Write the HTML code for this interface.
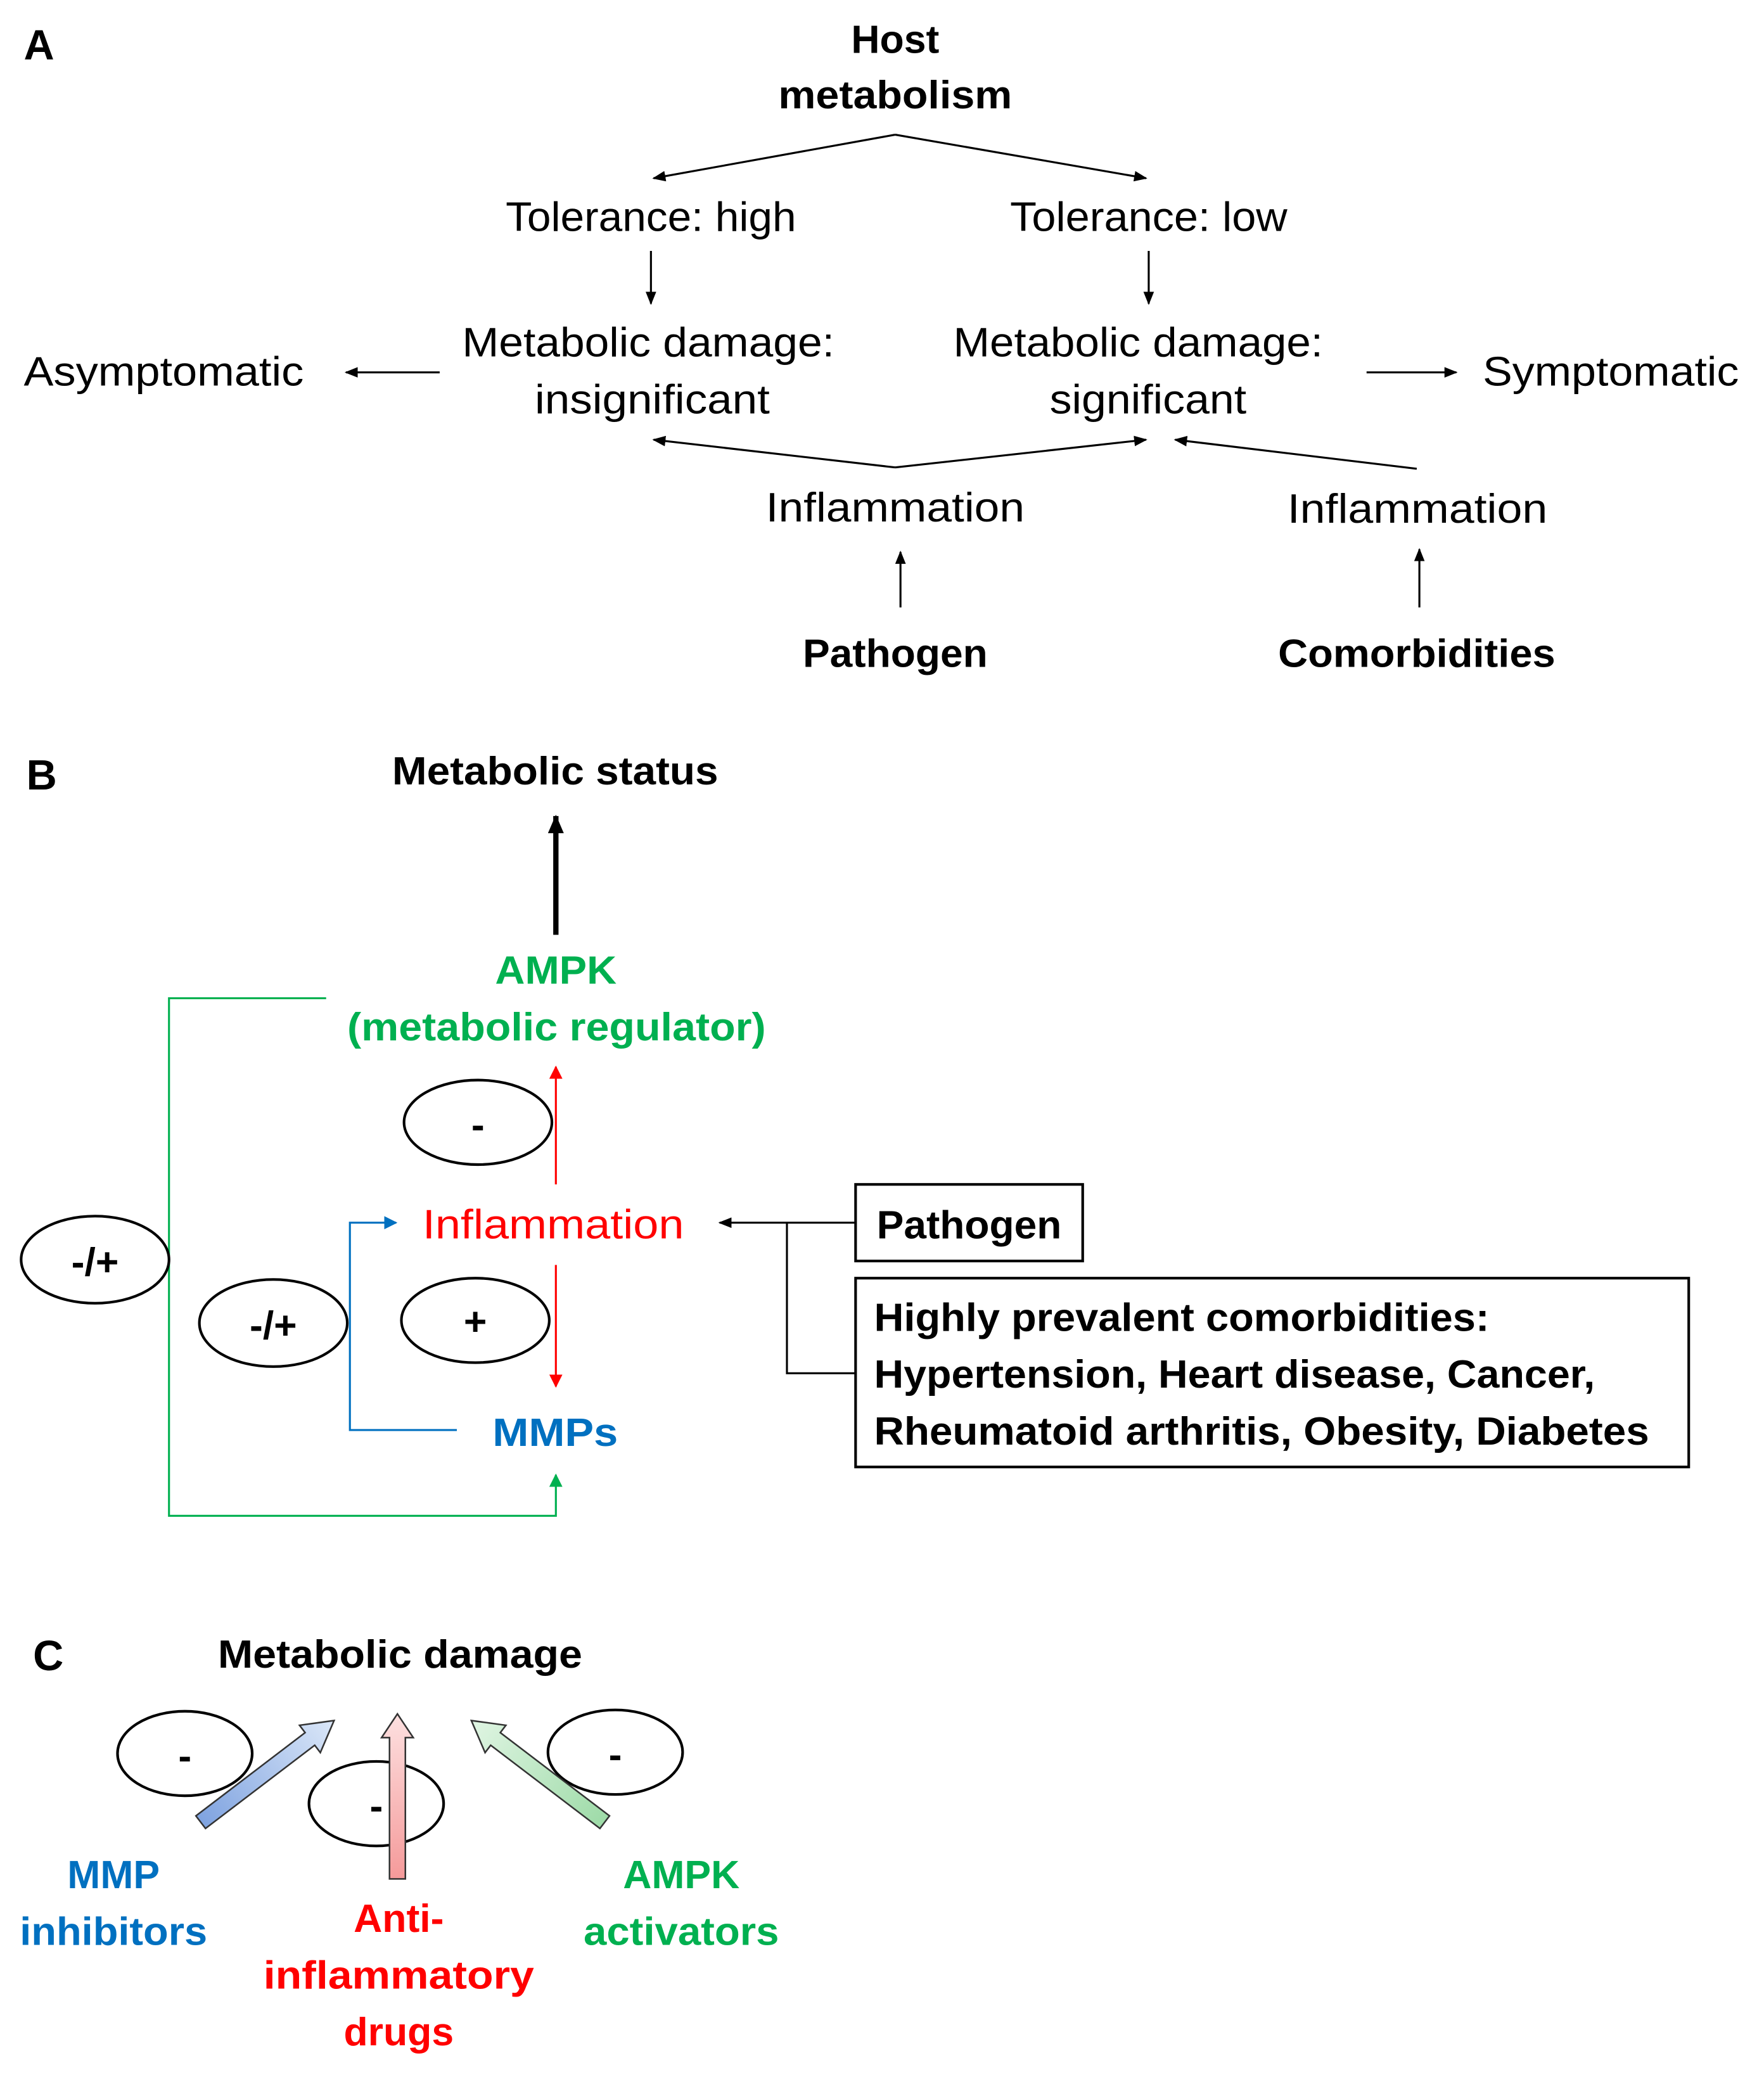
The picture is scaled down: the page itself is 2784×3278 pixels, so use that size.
<!DOCTYPE html>
<html><head><meta charset="utf-8"><style>
html,body{margin:0;padding:0;background:#fff}
svg{display:block}
text{font-family:"Liberation Sans",sans-serif}
.b{font-weight:bold}
</style></head><body>
<svg width="2784" height="3278" viewBox="0 0 1336 1573" preserveAspectRatio="none" xmlns="http://www.w3.org/2000/svg">
<defs>
<marker id="ak" markerWidth="10" markerHeight="8" refX="9" refY="4" orient="auto" markerUnits="userSpaceOnUse"><path d="M0,0 L10,4 L0,8 z" fill="#000"/></marker>
<marker id="akb" markerWidth="14" markerHeight="12" refX="13" refY="6" orient="auto" markerUnits="userSpaceOnUse"><path d="M0,0 L14,6 L0,12 z" fill="#000"/></marker>
<marker id="ar" markerWidth="10" markerHeight="10" refX="9" refY="5" orient="auto" markerUnits="userSpaceOnUse"><path d="M0,0 L10,5 L0,10 z" fill="#f00"/></marker>
<marker id="ag" markerWidth="10" markerHeight="10" refX="9" refY="5" orient="auto" markerUnits="userSpaceOnUse"><path d="M0,0 L10,5 L0,10 z" fill="#00b050"/></marker>
<marker id="abl" markerWidth="10" markerHeight="10" refX="9" refY="5" orient="auto" markerUnits="userSpaceOnUse"><path d="M0,0 L10,5 L0,10 z" fill="#0070c0"/></marker>
<linearGradient id="gb" x1="0" y1="0" x2="1" y2="0"><stop offset="0" stop-color="#7fa3e0"/><stop offset="1" stop-color="#dbe7f8"/></linearGradient>
<linearGradient id="gr" x1="0" y1="0" x2="1" y2="0"><stop offset="0" stop-color="#f59a9a"/><stop offset="1" stop-color="#fde0e0"/></linearGradient>
<linearGradient id="gg" x1="0" y1="0" x2="1" y2="0"><stop offset="0" stop-color="#9edba8"/><stop offset="1" stop-color="#e0f5e3"/></linearGradient>
</defs>

<!-- A -->
<text x="18" y="45" font-size="32" class="b">A</text>
<text x="678" y="40" font-size="30" class="b" text-anchor="middle">Host</text>
<text x="678" y="82" font-size="30" class="b" text-anchor="middle" textLength="177" lengthAdjust="spacingAndGlyphs">metabolism</text>
<g stroke="#000" stroke-width="1.5" fill="none">
<line x1="678" y1="102" x2="495" y2="135" marker-end="url(#ak)"/>
<line x1="678" y1="102" x2="868" y2="135" marker-end="url(#ak)"/>
<line x1="493" y1="190" x2="493" y2="230" marker-end="url(#ak)"/>
<line x1="870" y1="190" x2="870" y2="230" marker-end="url(#ak)"/>
<line x1="333" y1="282" x2="262" y2="282" marker-end="url(#ak)"/>
<line x1="1035" y1="282" x2="1103" y2="282" marker-end="url(#ak)"/>
<line x1="678" y1="354" x2="495" y2="333" marker-end="url(#ak)"/>
<line x1="678" y1="354" x2="868" y2="333" marker-end="url(#ak)"/>
<line x1="1073" y1="355" x2="890" y2="333" marker-end="url(#ak)"/>
<line x1="682" y1="460" x2="682" y2="418" marker-end="url(#ak)"/>
<line x1="1075" y1="460" x2="1075" y2="416" marker-end="url(#ak)"/>
</g>
<g font-size="31">
<text x="383" y="175" textLength="220" lengthAdjust="spacingAndGlyphs">Tolerance: high</text>
<text x="765" y="175" textLength="210" lengthAdjust="spacingAndGlyphs">Tolerance: low</text>
<text x="350" y="270" textLength="282" lengthAdjust="spacingAndGlyphs">Metabolic damage:</text>
<text x="405" y="313" textLength="178" lengthAdjust="spacingAndGlyphs">insignificant</text>
<text x="722" y="270" textLength="280" lengthAdjust="spacingAndGlyphs">Metabolic damage:</text>
<text x="795" y="313" textLength="149" lengthAdjust="spacingAndGlyphs">significant</text>
<text x="18" y="292" textLength="212" lengthAdjust="spacingAndGlyphs">Asymptomatic</text>
<text x="1123" y="292" textLength="194" lengthAdjust="spacingAndGlyphs">Symptomatic</text>
<text x="580" y="395" textLength="196" lengthAdjust="spacingAndGlyphs">Inflammation</text>
<text x="975" y="396" textLength="197" lengthAdjust="spacingAndGlyphs">Inflammation</text>
</g>
<text x="608" y="505" font-size="30" class="b" textLength="140" lengthAdjust="spacingAndGlyphs">Pathogen</text>
<text x="968" y="505" font-size="30" class="b" textLength="210" lengthAdjust="spacingAndGlyphs">Comorbidities</text>

<!-- B -->
<text x="20" y="598" font-size="32" class="b">B</text>
<text x="297" y="594" font-size="30" class="b" textLength="247" lengthAdjust="spacingAndGlyphs">Metabolic status</text>
<line x1="421" y1="708" x2="421" y2="618" stroke="#000" stroke-width="4" marker-end="url(#akb)"/>
<text x="421" y="745" font-size="30" class="b" fill="#00b050" text-anchor="middle" textLength="92" lengthAdjust="spacingAndGlyphs">AMPK</text>
<text x="263" y="788" font-size="30" class="b" fill="#00b050" textLength="317" lengthAdjust="spacingAndGlyphs">(metabolic regulator)</text>
<polyline points="247,756 128,756 128,1148 421,1148 421,1117" fill="none" stroke="#00b050" stroke-width="1.5" marker-end="url(#ag)"/>
<line x1="421" y1="897" x2="421" y2="808" stroke="#f00" stroke-width="1.5" marker-end="url(#ar)"/>
<line x1="421" y1="958" x2="421" y2="1050" stroke="#f00" stroke-width="1.5" marker-end="url(#ar)"/>
<polyline points="346,1083 265,1083 265,926 300,926" fill="none" stroke="#0070c0" stroke-width="1.5" marker-end="url(#abl)"/>
<text x="320" y="938" font-size="31" fill="#f00" textLength="198" lengthAdjust="spacingAndGlyphs">Inflammation</text>
<text x="373" y="1095" font-size="30" class="b" fill="#0070c0" textLength="95" lengthAdjust="spacingAndGlyphs">MMPs</text>
<g fill="none" stroke="#000" stroke-width="2">
<ellipse cx="362" cy="850" rx="56" ry="32"/>
<ellipse cx="360" cy="1000" rx="56" ry="32"/>
<ellipse cx="72" cy="954" rx="56" ry="33"/>
<ellipse cx="207" cy="1002" rx="56" ry="33"/>
</g>
<g font-size="30" class="b" text-anchor="middle">
<text x="362" y="862">-</text>
<text x="360" y="1011">+</text>
<text x="72" y="966">-/+</text>
<text x="207" y="1014">-/+</text>
</g>
<g stroke="#000" stroke-width="1.5" fill="none">
<line x1="648" y1="926" x2="545" y2="926" marker-end="url(#ak)"/>
<polyline points="596,926 596,1040 648,1040"/>
<rect x="648" y="897" width="172" height="58" stroke-width="2"/>
<rect x="648" y="968" width="631" height="143" stroke-width="2"/>
</g>
<text x="664" y="938" font-size="30" class="b" textLength="140" lengthAdjust="spacingAndGlyphs">Pathogen</text>
<g font-size="30" class="b">
<text x="662" y="1008" textLength="466" lengthAdjust="spacingAndGlyphs">Highly prevalent comorbidities:</text>
<text x="662" y="1051" textLength="546" lengthAdjust="spacingAndGlyphs">Hypertension, Heart disease, Cancer,</text>
<text x="662" y="1094" textLength="587" lengthAdjust="spacingAndGlyphs">Rheumatoid arthritis, Obesity, Diabetes</text>
</g>

<!-- C -->
<text x="25" y="1265" font-size="32" class="b">C</text>
<text x="165" y="1263" font-size="30" class="b" textLength="276" lengthAdjust="spacingAndGlyphs">Metabolic damage</text>
<g fill="none" stroke="#000" stroke-width="2">
<ellipse cx="140" cy="1328" rx="51" ry="32"/>
<ellipse cx="466" cy="1327" rx="51" ry="32"/>
</g>
<g stroke="#333" stroke-width="1.2">
<polygon transform="translate(152,1380) rotate(-37.3)" points="0,-6 104,-6 104,-13 127,0 104,13 104,6 0,6" fill="url(#gb)"/>
<polygon transform="translate(458,1380) rotate(-142.7) scale(1,-1)" points="0,-6 104,-6 104,-13 127,0 104,13 104,6 0,6" fill="url(#gg)"/>
</g>
<ellipse cx="285" cy="1366" rx="51" ry="32" fill="none" stroke="#000" stroke-width="2"/>
<polygon transform="translate(301,1423) rotate(-90)" points="0,-6 107,-6 107,-12 125,0 107,12 107,6 0,6" fill="url(#gr)" stroke="#333" stroke-width="1.2"/>
<g font-size="30" class="b" text-anchor="middle">
<text x="140" y="1340">-</text>
<text x="466" y="1339">-</text>
<text x="285" y="1378">-</text>
</g>
<g font-size="30" class="b" text-anchor="middle">
<text x="86" y="1430" fill="#0070c0">MMP</text>
<text x="86" y="1473" fill="#0070c0" textLength="142" lengthAdjust="spacingAndGlyphs">inhibitors</text>
<text x="302" y="1463" fill="#f00">Anti-</text>
<text x="302" y="1506" fill="#f00" textLength="205" lengthAdjust="spacingAndGlyphs">inflammatory</text>
<text x="302" y="1549" fill="#f00">drugs</text>
<text x="516" y="1430" fill="#00b050">AMPK</text>
<text x="516" y="1473" fill="#00b050" textLength="148" lengthAdjust="spacingAndGlyphs">activators</text>
</g>
</svg>
</body></html>
